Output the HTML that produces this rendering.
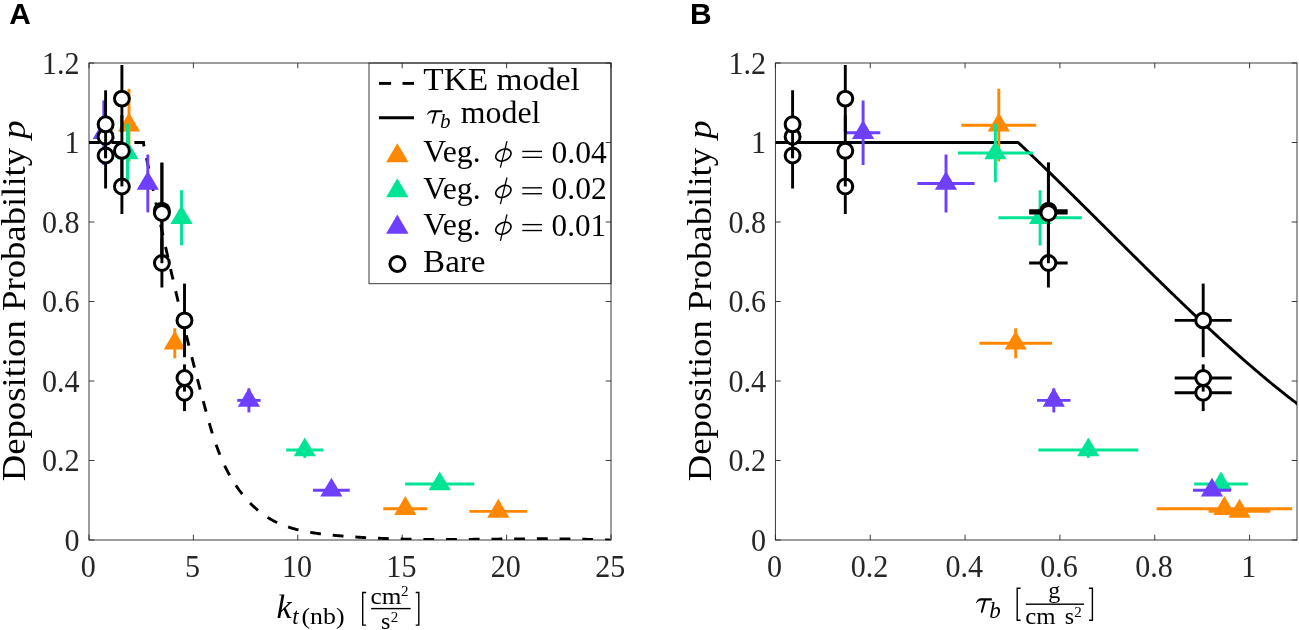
<!DOCTYPE html>
<html><head><meta charset="utf-8"><style>html,body{margin:0;padding:0;background:#fff;}svg{display:block;will-change:transform;}</style></head>
<body><svg width="1299" height="630" viewBox="0 0 1299 630">
<rect width="1299" height="630" fill="#fff"/>
<defs>
<clipPath id="ca"><rect x="89.0" y="63.0" width="522.0" height="477.0"/></clipPath>
<clipPath id="cb"><rect x="775.4" y="63.0" width="521.6" height="477.0"/></clipPath>
</defs>
<rect x="89.00" y="63.00" width="522.00" height="477.00" fill="none" stroke="#262626" stroke-width="0.9"/>
<line x1="89.00" y1="540.00" x2="89.00" y2="534.70" stroke="#262626" stroke-width="0.9" />
<line x1="89.00" y1="63.00" x2="89.00" y2="68.30" stroke="#262626" stroke-width="0.9" />
<line x1="193.40" y1="540.00" x2="193.40" y2="534.70" stroke="#262626" stroke-width="0.9" />
<line x1="193.40" y1="63.00" x2="193.40" y2="68.30" stroke="#262626" stroke-width="0.9" />
<line x1="297.80" y1="540.00" x2="297.80" y2="534.70" stroke="#262626" stroke-width="0.9" />
<line x1="297.80" y1="63.00" x2="297.80" y2="68.30" stroke="#262626" stroke-width="0.9" />
<line x1="402.20" y1="540.00" x2="402.20" y2="534.70" stroke="#262626" stroke-width="0.9" />
<line x1="402.20" y1="63.00" x2="402.20" y2="68.30" stroke="#262626" stroke-width="0.9" />
<line x1="506.60" y1="540.00" x2="506.60" y2="534.70" stroke="#262626" stroke-width="0.9" />
<line x1="506.60" y1="63.00" x2="506.60" y2="68.30" stroke="#262626" stroke-width="0.9" />
<line x1="611.00" y1="540.00" x2="611.00" y2="534.70" stroke="#262626" stroke-width="0.9" />
<line x1="611.00" y1="63.00" x2="611.00" y2="68.30" stroke="#262626" stroke-width="0.9" />
<line x1="89.00" y1="540.00" x2="94.30" y2="540.00" stroke="#262626" stroke-width="0.9" />
<line x1="611.00" y1="540.00" x2="605.70" y2="540.00" stroke="#262626" stroke-width="0.9" />
<line x1="89.00" y1="460.50" x2="94.30" y2="460.50" stroke="#262626" stroke-width="0.9" />
<line x1="611.00" y1="460.50" x2="605.70" y2="460.50" stroke="#262626" stroke-width="0.9" />
<line x1="89.00" y1="381.00" x2="94.30" y2="381.00" stroke="#262626" stroke-width="0.9" />
<line x1="611.00" y1="381.00" x2="605.70" y2="381.00" stroke="#262626" stroke-width="0.9" />
<line x1="89.00" y1="301.50" x2="94.30" y2="301.50" stroke="#262626" stroke-width="0.9" />
<line x1="611.00" y1="301.50" x2="605.70" y2="301.50" stroke="#262626" stroke-width="0.9" />
<line x1="89.00" y1="222.00" x2="94.30" y2="222.00" stroke="#262626" stroke-width="0.9" />
<line x1="611.00" y1="222.00" x2="605.70" y2="222.00" stroke="#262626" stroke-width="0.9" />
<line x1="89.00" y1="142.50" x2="94.30" y2="142.50" stroke="#262626" stroke-width="0.9" />
<line x1="611.00" y1="142.50" x2="605.70" y2="142.50" stroke="#262626" stroke-width="0.9" />
<line x1="89.00" y1="63.00" x2="94.30" y2="63.00" stroke="#262626" stroke-width="0.9" />
<line x1="611.00" y1="63.00" x2="605.70" y2="63.00" stroke="#262626" stroke-width="0.9" />
<g clip-path="url(#ca)">
<path d="M89.00,142.50 L144.85,142.50" fill="none" stroke="#000000" stroke-width="2.9" stroke-linejoin="round" stroke-dasharray="10.8 11.9"/>
<path d="M143.30,142.57 L143.55,143.78 L143.80,145.00 L144.04,146.21 L144.29,147.43 L144.54,148.64 L144.79,149.86 L145.04,151.07 L145.29,152.29 L145.54,153.50 L145.79,154.72 L146.04,155.94 L146.29,157.15 L146.55,158.37 L146.80,159.59 L147.05,160.81 L147.30,162.03 L147.55,163.24 L147.81,164.46 L148.06,165.68 L148.31,166.90 L148.57,168.12 L148.82,169.34 L149.08,170.56 L149.33,171.78 L149.59,173.00 L149.84,174.22 L150.10,175.44 L150.35,176.66 L150.61,177.88 L150.87,179.10 L151.12,180.32 L151.38,181.55 L151.64,182.77 L151.90,183.99 L152.16,185.21 L152.41,186.43 L152.67,187.65 L152.93,188.88 L153.19,190.10 L153.45,191.32 L153.71,192.55 L153.97,193.77 L154.23,194.99 L154.49,196.21 L154.75,197.44 L155.02,198.66 L155.28,199.88 L155.54,201.11 L155.80,202.33 L156.06,203.56 L156.33,204.78 L156.59,206.00 L156.85,207.23 L157.12,208.45 L157.38,209.68 L157.65,210.90 L157.91,212.12 L158.18,213.35 L158.44,214.57 L158.71,215.80 L158.98,217.02 L159.24,218.25 L159.51,219.47 L159.78,220.70 L160.04,221.92 L160.31,223.14 L160.58,224.37 L160.85,225.59 L161.12,226.82 L161.39,228.04 L161.65,229.27 L161.92,230.49 L162.19,231.72 L162.46,232.94 L162.73,234.17 L163.01,235.39 L163.28,236.61 L163.55,237.84 L163.82,239.06 L164.09,240.29 L164.36,241.51 L164.64,242.74 L164.91,243.96 L165.18,245.18 L165.46,246.41 L165.73,247.63 L166.01,248.86 L166.28,250.08 L166.56,251.30 L166.83,252.53 L167.11,253.75 L167.38,254.97 L167.66,256.20 L167.94,257.42 L168.21,258.64 L168.49,259.86 L168.77,261.09 L169.04,262.31 L169.32,263.53 L169.60,264.75 L169.88,265.98 L170.16,267.20 L170.44,268.42 L170.72,269.64 L171.00,270.86 L171.28,272.09 L171.56,273.31 L171.84,274.53 L172.12,275.75 L172.40,276.97 L172.69,278.19 L172.97,279.41 L173.25,280.63 L173.53,281.85 L173.82,283.07 L174.10,284.29 L174.39,285.51 L174.67,286.73 L174.95,287.94 L175.24,289.16 L175.52,290.38 L175.81,291.60 L176.10,292.82 L176.38,294.03 L176.67,295.25 L176.96,296.47 L177.24,297.68 L177.53,298.90 L177.82,300.12 L178.11,301.33 L178.40,302.55 L178.68,303.76 L178.97,304.98 L179.26,306.19 L179.55,307.41 L179.84,308.62 L180.13,309.83 L180.43,311.05 L180.72,312.26 L181.01,313.47 L181.30,314.69 L181.59,315.90 L181.88,317.11 L182.18,318.32 L182.47,319.53 L182.76,320.74 L183.06,321.95 L183.35,323.16 L183.65,324.37 L183.94,325.58 L184.24,326.79 L184.53,328.00 L184.83,329.21 L185.13,330.41 L185.42,331.62 L185.72,332.83 L186.02,334.03 L186.31,335.24 L186.61,336.44 L186.91,337.65 L187.21,338.85 L187.51,340.06 L187.81,341.26 L188.11,342.46 L188.41,343.67 L188.71,344.87 L189.01,346.07 L189.31,347.27 L189.61,348.48 L189.91,349.68 L190.21,350.88 L190.52,352.08 L190.82,353.28 L191.12,354.48 L191.43,355.68 L191.73,356.88 L192.04,358.08 L192.34,359.28 L192.65,360.48 L192.95,361.68 L193.26,362.88 L193.57,364.08 L193.87,365.28 L194.18,366.48 L194.49,367.68 L194.80,368.88 L195.11,370.09 L195.42,371.29 L195.73,372.49 L196.04,373.69 L196.35,374.89 L196.66,376.09 L196.97,377.30 L197.29,378.50 L197.60,379.70 L197.91,380.91 L198.23,382.11 L198.54,383.31 L198.86,384.52 L199.18,385.73 L199.49,386.93 L199.81,388.14 L200.13,389.35 L200.45,390.55 L200.77,391.76 L201.09,392.97 L201.41,394.18 L201.73,395.39 L202.05,396.60 L202.37,397.82 L202.69,399.03 L203.02,400.24 L203.34,401.46 L203.67,402.67 L203.99,403.89 L204.32,405.11 L204.65,406.32 L204.97,407.54 L205.30,408.76 L205.63,409.98 L205.96,411.21 L206.30,412.43 L206.63,413.65 L206.96,414.87 L207.30,416.10 L207.64,417.32 L207.98,418.54 L208.32,419.77 L208.67,420.99 L209.02,422.21 L209.37,423.43 L209.72,424.66 L210.08,425.88 L210.43,427.10 L210.80,428.32 L211.16,429.54 L211.53,430.75 L211.90,431.97 L212.28,433.18 L212.66,434.40 L213.05,435.61 L213.44,436.82 L213.83,438.03 L214.23,439.24 L214.63,440.44 L215.04,441.65 L215.45,442.85 L215.87,444.05 L216.29,445.25 L216.72,446.44 L217.15,447.63 L217.59,448.82 L218.03,450.01 L218.49,451.19 L218.94,452.38 L219.41,453.55 L219.88,454.73 L220.35,455.90 L220.84,457.07 L221.33,458.23 L221.83,459.40 L222.33,460.55 L222.84,461.71 L223.36,462.86 L223.89,464.01 L224.42,465.15 L224.97,466.29 L225.52,467.42 L226.08,468.55 L226.64,469.67 L227.22,470.79 L227.80,471.91 L228.40,473.02 L229.00,474.13 L229.61,475.23 L230.23,476.32 L230.86,477.41 L231.49,478.50 L232.14,479.57 L232.79,480.65 L233.46,481.71 L234.13,482.77 L234.81,483.82 L235.50,484.87 L236.20,485.91 L236.90,486.94 L237.62,487.96 L238.34,488.98 L239.08,489.99 L239.82,490.99 L240.57,491.98 L241.33,492.96 L242.09,493.94 L242.87,494.91 L243.65,495.86 L244.45,496.81 L245.25,497.75 L246.06,498.68 L246.88,499.60 L247.71,500.51 L248.54,501.41 L249.39,502.30 L250.24,503.18 L251.10,504.05 L251.97,504.91 L252.85,505.75 L253.74,506.59 L254.63,507.41 L255.54,508.23 L256.45,509.03 L257.37,509.82 L258.30,510.59 L259.24,511.36 L260.19,512.11 L261.14,512.85 L262.11,513.58 L263.08,514.29 L264.06,514.99 L265.05,515.68 L266.05,516.35 L267.05,517.01 L268.07,517.65 L269.09,518.29 L270.12,518.90 L271.16,519.50 L272.21,520.09 L273.27,520.66 L274.33,521.22 L275.40,521.77 L276.48,522.29 L277.57,522.81 L278.67,523.31 L279.77,523.79 L280.88,524.27 L282.00,524.73 L283.13,525.17 L284.26,525.61 L285.40,526.03 L286.55,526.44 L287.70,526.83 L288.85,527.22 L290.02,527.59 L291.19,527.95 L292.36,528.30 L293.55,528.64 L294.73,528.97 L295.92,529.29 L297.12,529.60 L298.32,529.90 L299.53,530.19 L300.74,530.47 L301.95,530.74 L303.17,531.00 L304.40,531.26 L305.62,531.50 L306.86,531.74 L308.09,531.97 L309.33,532.19 L310.57,532.40 L311.81,532.61 L313.06,532.80 L314.31,533.00 L315.56,533.18 L316.82,533.36 L318.08,533.54 L319.34,533.70 L320.60,533.87 L321.86,534.02 L323.12,534.18 L324.39,534.32 L325.66,534.46 L326.93,534.60 L328.19,534.74 L329.46,534.87 L330.73,534.99 L332.01,535.12 L333.28,535.24 L334.55,535.36 L335.82,535.47 L337.09,535.58 L338.36,535.69 L339.63,535.80 L340.90,535.91 L342.17,536.01 L343.44,536.11 L344.71,536.22 L345.97,536.31 L347.24,536.41 L348.51,536.51 L349.77,536.60 L351.04,536.69 L352.31,536.78 L353.57,536.87 L354.83,536.95 L356.10,537.04 L357.36,537.12 L358.63,537.20 L359.89,537.28 L361.15,537.36 L362.41,537.43 L363.67,537.50 L364.94,537.58 L366.20,537.65 L367.46,537.72 L368.72,537.78 L369.98,537.85 L371.23,537.91 L372.49,537.98 L373.75,538.04 L375.01,538.10 L376.27,538.15 L377.52,538.21 L378.78,538.26 L380.04,538.32 L381.29,538.37 L382.55,538.42 L383.81,538.47 L385.06,538.52 L386.32,538.56 L387.57,538.61 L388.82,538.65 L390.08,538.69 L391.33,538.74 L392.58,538.77 L393.84,538.81 L395.09,538.85 L396.34,538.89 L397.59,538.92 L398.85,538.95 L400.10,538.99 L401.35,539.02 L402.60,539.05 L403.85,539.08 L405.10,539.10 L406.35,539.13 L407.60,539.15 L408.85,539.18 L410.10,539.20 L411.35,539.22 L412.60,539.24 L413.84,539.26 L415.09,539.28 L416.34,539.30 L417.59,539.32 L418.84,539.33 L420.08,539.35 L421.33,539.36 L422.58,539.38 L423.82,539.39 L425.07,539.40 L426.32,539.41 L427.56,539.42 L428.81,539.43 L430.06,539.44 L431.30,539.44 L432.55,539.45 L433.79,539.46 L435.04,539.46 L436.28,539.46 L437.53,539.47 L438.77,539.47 L440.02,539.47 L441.26,539.47 L442.50,539.47 L443.75,539.47 L444.99,539.47 L446.24,539.47 L447.48,539.47 L448.72,539.47 L449.97,539.47 L451.21,539.46 L452.45,539.46 L453.70,539.45 L454.94,539.45 L456.18,539.44 L457.43,539.44 L458.67,539.43 L459.91,539.42 L461.15,539.41 L462.40,539.41 L463.64,539.40 L464.88,539.39 L466.12,539.38 L467.37,539.37 L468.61,539.36 L469.85,539.35 L471.09,539.34 L472.34,539.33 L473.58,539.32 L474.82,539.31 L476.06,539.30 L477.30,539.29 L478.55,539.28 L479.79,539.26 L481.03,539.25 L482.27,539.24 L483.52,539.23 L484.76,539.22 L486.00,539.20 L487.24,539.19 L488.48,539.18 L489.73,539.17 L490.97,539.15 L492.21,539.14 L493.45,539.13 L494.70,539.11 L495.94,539.10 L497.18,539.09 L498.42,539.08 L499.67,539.06 L500.91,539.05 L502.15,539.04 L503.39,539.03 L504.64,539.02 L505.88,539.00 L507.12,538.99 L508.37,538.98 L509.61,538.97 L510.85,538.96 L512.10,538.95 L513.34,538.94 L514.58,538.93 L515.83,538.92 L517.07,538.91 L518.32,538.90 L519.56,538.89 L520.80,538.88 L522.05,538.87 L523.29,538.86 L524.54,538.86 L525.78,538.85 L527.03,538.84 L528.27,538.84 L529.52,538.83 L530.76,538.82 L532.01,538.82 L533.26,538.82 L534.50,538.81 L535.75,538.81 L537.00,538.81 L538.24,538.80 L539.49,538.80 L540.74,538.80 L541.98,538.80 L543.23,538.80 L544.48,538.80 L545.73,538.80 L546.97,538.81 L548.22,538.81 L549.47,538.81 L550.72,538.82 L551.97,538.82 L553.22,538.83 L554.47,538.84 L555.72,538.84 L556.97,538.85 L558.22,538.86 L559.47,538.87 L560.72,538.88 L561.97,538.89 L563.23,538.91 L564.48,538.92 L565.73,538.94 L566.98,538.95 L568.23,538.97 L569.49,538.99 L570.74,539.00 L571.99,539.02 L573.25,539.04 L574.50,539.07 L575.76,539.09 L577.01,539.11 L578.27,539.14 L579.52,539.16 L580.78,539.19 L582.04,539.22 L583.29,539.25 L584.55,539.28 L585.81,539.31 L587.07,539.34 L588.32,539.38 L589.58,539.41 L590.84,539.45 L592.10,539.49 L593.36,539.53 L594.62,539.57 L595.88,539.61 L597.14,539.65 L598.40,539.70 L599.67,539.74 L600.93,539.79 L602.19,539.84 L603.45,539.89 L604.72,539.94 L605.98,539.99 L607.25,540.00 L608.51,540.00 L609.78,540.00" fill="none" stroke="#000000" stroke-width="2.9" stroke-linejoin="round" stroke-dasharray="10.8 11.9" stroke-dashoffset="6.9"/>
<line x1="129.00" y1="88.80" x2="129.00" y2="161.60" stroke="#FF8800" stroke-width="2.9" />
<polygon points="129.00,112.60 140.10,131.50 117.90,131.50" fill="#FF8800"/>
<line x1="174.80" y1="328.30" x2="174.80" y2="358.30" stroke="#FF8800" stroke-width="2.9" />
<polygon points="174.80,330.70 185.90,349.60 163.70,349.60" fill="#FF8800"/>
<line x1="405.30" y1="504.70" x2="405.30" y2="512.70" stroke="#FF8800" stroke-width="2.9" />
<line x1="383.30" y1="508.70" x2="427.30" y2="508.70" stroke="#FF8800" stroke-width="2.9" />
<polygon points="405.30,496.10 416.40,515.00 394.20,515.00" fill="#FF8800"/>
<line x1="498.30" y1="507.40" x2="498.30" y2="515.40" stroke="#FF8800" stroke-width="2.9" />
<line x1="469.50" y1="511.40" x2="527.10" y2="511.40" stroke="#FF8800" stroke-width="2.9" />
<polygon points="498.30,498.80 509.40,517.70 487.20,517.70" fill="#FF8800"/>
<line x1="127.50" y1="123.70" x2="127.50" y2="182.30" stroke="#00E594" stroke-width="2.9" />
<polygon points="127.50,140.40 138.60,159.30 116.40,159.30" fill="#00E594"/>
<line x1="181.50" y1="190.20" x2="181.50" y2="245.40" stroke="#00E594" stroke-width="2.9" />
<polygon points="181.50,205.20 192.60,224.10 170.40,224.10" fill="#00E594"/>
<line x1="304.80" y1="442.10" x2="304.80" y2="457.90" stroke="#00E594" stroke-width="2.9" />
<line x1="286.15" y1="450.00" x2="323.45" y2="450.00" stroke="#00E594" stroke-width="2.9" />
<polygon points="304.80,437.40 315.90,456.30 293.70,456.30" fill="#00E594"/>
<line x1="439.70" y1="480.00" x2="439.70" y2="488.00" stroke="#00E594" stroke-width="2.9" />
<line x1="405.10" y1="484.00" x2="474.30" y2="484.00" stroke="#00E594" stroke-width="2.9" />
<polygon points="439.70,471.40 450.80,490.30 428.60,490.30" fill="#00E594"/>
<line x1="103.80" y1="100.40" x2="103.80" y2="165.00" stroke="#6E3FFF" stroke-width="2.9" />
<polygon points="103.80,120.10 114.90,139.00 92.70,139.00" fill="#6E3FFF"/>
<line x1="147.80" y1="154.60" x2="147.80" y2="212.40" stroke="#6E3FFF" stroke-width="2.9" />
<polygon points="147.80,170.90 158.90,189.80 136.70,189.80" fill="#6E3FFF"/>
<line x1="248.90" y1="388.40" x2="248.90" y2="412.40" stroke="#6E3FFF" stroke-width="2.9" />
<line x1="237.20" y1="400.40" x2="260.60" y2="400.40" stroke="#6E3FFF" stroke-width="2.9" />
<polygon points="248.90,387.80 260.00,406.70 237.80,406.70" fill="#6E3FFF"/>
<line x1="331.40" y1="486.30" x2="331.40" y2="494.30" stroke="#6E3FFF" stroke-width="2.9" />
<line x1="313.00" y1="490.30" x2="349.80" y2="490.30" stroke="#6E3FFF" stroke-width="2.9" />
<polygon points="331.40,477.70 342.50,496.60 320.30,496.60" fill="#6E3FFF"/>
<line x1="105.60" y1="122.50" x2="105.60" y2="188.50" stroke="#000000" stroke-width="2.9" />
<circle cx="105.60" cy="155.50" r="7.45" fill="#fff" stroke="#000" stroke-width="3.0"/>
<line x1="105.60" y1="116.70" x2="105.60" y2="156.70" stroke="#000000" stroke-width="2.9" />
<circle cx="105.60" cy="136.70" r="7.45" fill="#fff" stroke="#000" stroke-width="3.0"/>
<line x1="105.60" y1="90.30" x2="105.60" y2="158.30" stroke="#000000" stroke-width="2.9" />
<circle cx="105.60" cy="124.30" r="7.45" fill="#fff" stroke="#000" stroke-width="3.0"/>
<line x1="121.90" y1="159.00" x2="121.90" y2="214.00" stroke="#000000" stroke-width="2.9" />
<circle cx="121.90" cy="186.50" r="7.45" fill="#fff" stroke="#000" stroke-width="3.0"/>
<line x1="121.90" y1="115.20" x2="121.90" y2="186.40" stroke="#000000" stroke-width="2.9" />
<circle cx="121.90" cy="150.80" r="7.45" fill="#fff" stroke="#000" stroke-width="3.0"/>
<line x1="121.90" y1="65.00" x2="121.90" y2="132.20" stroke="#000000" stroke-width="2.9" />
<circle cx="121.90" cy="98.60" r="7.45" fill="#fff" stroke="#000" stroke-width="3.0"/>
<line x1="161.90" y1="238.50" x2="161.90" y2="287.50" stroke="#000000" stroke-width="2.9" />
<circle cx="161.90" cy="263.00" r="7.45" fill="#fff" stroke="#000" stroke-width="3.0"/>
<line x1="161.90" y1="162.60" x2="161.90" y2="258.60" stroke="#000000" stroke-width="2.9" />
<circle cx="161.90" cy="210.60" r="7.45" fill="#fff" stroke="#000" stroke-width="3.0"/>
<line x1="161.90" y1="162.80" x2="161.90" y2="263.20" stroke="#000000" stroke-width="2.9" />
<circle cx="161.90" cy="213.00" r="7.45" fill="#fff" stroke="#000" stroke-width="3.0"/>
<line x1="184.50" y1="374.30" x2="184.50" y2="411.10" stroke="#000000" stroke-width="2.9" />
<circle cx="184.50" cy="392.70" r="7.45" fill="#fff" stroke="#000" stroke-width="3.0"/>
<line x1="184.50" y1="364.40" x2="184.50" y2="391.60" stroke="#000000" stroke-width="2.9" />
<circle cx="184.50" cy="378.00" r="7.45" fill="#fff" stroke="#000" stroke-width="3.0"/>
<line x1="184.50" y1="283.60" x2="184.50" y2="357.20" stroke="#000000" stroke-width="2.9" />
<circle cx="184.50" cy="320.40" r="7.45" fill="#fff" stroke="#000" stroke-width="3.0"/>
</g>
<rect x="775.40" y="63.00" width="521.60" height="477.00" fill="none" stroke="#262626" stroke-width="0.9"/>
<line x1="775.40" y1="540.00" x2="775.40" y2="534.70" stroke="#262626" stroke-width="0.9" />
<line x1="775.40" y1="63.00" x2="775.40" y2="68.30" stroke="#262626" stroke-width="0.9" />
<line x1="870.24" y1="540.00" x2="870.24" y2="534.70" stroke="#262626" stroke-width="0.9" />
<line x1="870.24" y1="63.00" x2="870.24" y2="68.30" stroke="#262626" stroke-width="0.9" />
<line x1="965.07" y1="540.00" x2="965.07" y2="534.70" stroke="#262626" stroke-width="0.9" />
<line x1="965.07" y1="63.00" x2="965.07" y2="68.30" stroke="#262626" stroke-width="0.9" />
<line x1="1059.91" y1="540.00" x2="1059.91" y2="534.70" stroke="#262626" stroke-width="0.9" />
<line x1="1059.91" y1="63.00" x2="1059.91" y2="68.30" stroke="#262626" stroke-width="0.9" />
<line x1="1154.75" y1="540.00" x2="1154.75" y2="534.70" stroke="#262626" stroke-width="0.9" />
<line x1="1154.75" y1="63.00" x2="1154.75" y2="68.30" stroke="#262626" stroke-width="0.9" />
<line x1="1249.58" y1="540.00" x2="1249.58" y2="534.70" stroke="#262626" stroke-width="0.9" />
<line x1="1249.58" y1="63.00" x2="1249.58" y2="68.30" stroke="#262626" stroke-width="0.9" />
<line x1="775.40" y1="540.00" x2="780.70" y2="540.00" stroke="#262626" stroke-width="0.9" />
<line x1="1297.00" y1="540.00" x2="1291.70" y2="540.00" stroke="#262626" stroke-width="0.9" />
<line x1="775.40" y1="460.50" x2="780.70" y2="460.50" stroke="#262626" stroke-width="0.9" />
<line x1="1297.00" y1="460.50" x2="1291.70" y2="460.50" stroke="#262626" stroke-width="0.9" />
<line x1="775.40" y1="381.00" x2="780.70" y2="381.00" stroke="#262626" stroke-width="0.9" />
<line x1="1297.00" y1="381.00" x2="1291.70" y2="381.00" stroke="#262626" stroke-width="0.9" />
<line x1="775.40" y1="301.50" x2="780.70" y2="301.50" stroke="#262626" stroke-width="0.9" />
<line x1="1297.00" y1="301.50" x2="1291.70" y2="301.50" stroke="#262626" stroke-width="0.9" />
<line x1="775.40" y1="222.00" x2="780.70" y2="222.00" stroke="#262626" stroke-width="0.9" />
<line x1="1297.00" y1="222.00" x2="1291.70" y2="222.00" stroke="#262626" stroke-width="0.9" />
<line x1="775.40" y1="142.50" x2="780.70" y2="142.50" stroke="#262626" stroke-width="0.9" />
<line x1="1297.00" y1="142.50" x2="1291.70" y2="142.50" stroke="#262626" stroke-width="0.9" />
<line x1="775.40" y1="63.00" x2="780.70" y2="63.00" stroke="#262626" stroke-width="0.9" />
<line x1="1297.00" y1="63.00" x2="1291.70" y2="63.00" stroke="#262626" stroke-width="0.9" />
<g clip-path="url(#cb)">
<path d="M775.40,142.50 L1018.20,142.50 L1019.61,143.83 L1021.01,145.15 L1022.42,146.49 L1023.82,147.82 L1025.23,149.15 L1026.64,150.49 L1028.04,151.83 L1029.45,153.17 L1030.85,154.52 L1032.26,155.86 L1033.67,157.21 L1035.07,158.56 L1036.48,159.91 L1037.88,161.26 L1039.29,162.62 L1040.70,163.97 L1042.10,165.33 L1043.51,166.69 L1044.91,168.05 L1046.32,169.42 L1047.73,170.78 L1049.13,172.15 L1050.54,173.52 L1051.94,174.89 L1053.35,176.26 L1054.76,177.63 L1056.16,179.00 L1057.57,180.38 L1058.97,181.75 L1060.38,183.13 L1061.79,184.51 L1063.19,185.89 L1064.60,187.27 L1066.01,188.65 L1067.41,190.04 L1068.82,191.42 L1070.22,192.81 L1071.63,194.19 L1073.04,195.58 L1074.44,196.97 L1075.85,198.36 L1077.25,199.75 L1078.66,201.14 L1080.07,202.53 L1081.47,203.92 L1082.88,205.32 L1084.28,206.71 L1085.69,208.10 L1087.10,209.50 L1088.50,210.89 L1089.91,212.29 L1091.31,213.69 L1092.72,215.08 L1094.13,216.48 L1095.53,217.88 L1096.94,219.27 L1098.34,220.67 L1099.75,222.07 L1101.16,223.47 L1102.56,224.87 L1103.97,226.27 L1105.37,227.67 L1106.78,229.06 L1108.19,230.46 L1109.59,231.86 L1111.00,233.26 L1112.40,234.66 L1113.81,236.06 L1115.22,237.46 L1116.62,238.86 L1118.03,240.25 L1119.43,241.65 L1120.84,243.05 L1122.25,244.45 L1123.65,245.84 L1125.06,247.24 L1126.46,248.64 L1127.87,250.03 L1129.28,251.43 L1130.68,252.82 L1132.09,254.22 L1133.49,255.61 L1134.90,257.00 L1136.31,258.39 L1137.71,259.79 L1139.12,261.18 L1140.52,262.57 L1141.93,263.95 L1143.34,265.34 L1144.74,266.73 L1146.15,268.11 L1147.55,269.50 L1148.96,270.88 L1150.37,272.27 L1151.77,273.65 L1153.18,275.03 L1154.58,276.41 L1155.99,277.79 L1157.40,279.16 L1158.80,280.54 L1160.21,281.91 L1161.62,283.29 L1163.02,284.66 L1164.43,286.03 L1165.83,287.40 L1167.24,288.77 L1168.65,290.13 L1170.05,291.50 L1171.46,292.86 L1172.86,294.22 L1174.27,295.58 L1175.68,296.94 L1177.08,298.29 L1178.49,299.65 L1179.89,301.00 L1181.30,302.35 L1182.71,303.70 L1184.11,305.05 L1185.52,306.39 L1186.92,307.73 L1188.33,309.07 L1189.74,310.41 L1191.14,311.75 L1192.55,313.08 L1193.95,314.41 L1195.36,315.74 L1196.77,317.07 L1198.17,318.40 L1199.58,319.72 L1200.98,321.04 L1202.39,322.36 L1203.80,323.67 L1205.20,324.99 L1206.61,326.30 L1208.01,327.61 L1209.42,328.91 L1210.83,330.21 L1212.23,331.52 L1213.64,332.81 L1215.04,334.11 L1216.45,335.40 L1217.86,336.69 L1219.26,337.98 L1220.67,339.26 L1222.07,340.54 L1223.48,341.82 L1224.89,343.09 L1226.29,344.36 L1227.70,345.63 L1229.10,346.90 L1230.51,348.16 L1231.92,349.42 L1233.32,350.68 L1234.73,351.93 L1236.13,353.18 L1237.54,354.42 L1238.95,355.67 L1240.35,356.91 L1241.76,358.14 L1243.16,359.38 L1244.57,360.60 L1245.98,361.83 L1247.38,363.05 L1248.79,364.27 L1250.19,365.49 L1251.60,366.70 L1253.01,367.90 L1254.41,369.11 L1255.82,370.31 L1257.23,371.50 L1258.63,372.70 L1260.04,373.88 L1261.44,375.07 L1262.85,376.25 L1264.26,377.43 L1265.66,378.60 L1267.07,379.77 L1268.47,380.93 L1269.88,382.09 L1271.29,383.25 L1272.69,384.40 L1274.10,385.54 L1275.50,386.69 L1276.91,387.83 L1278.32,388.96 L1279.72,390.09 L1281.13,391.22 L1282.53,392.34 L1283.94,393.45 L1285.35,394.57 L1286.75,395.67 L1288.16,396.78 L1289.56,397.87 L1290.97,398.97 L1292.38,400.06 L1293.78,401.14 L1295.19,402.22 L1296.59,403.29 L1298.00,404.36" fill="none" stroke="#000000" stroke-width="2.9" stroke-linejoin="round" />
<line x1="998.80" y1="88.80" x2="998.80" y2="161.60" stroke="#FF8800" stroke-width="2.9" />
<line x1="961.40" y1="125.20" x2="1036.20" y2="125.20" stroke="#FF8800" stroke-width="2.9" />
<polygon points="998.80,112.60 1009.90,131.50 987.70,131.50" fill="#FF8800"/>
<line x1="1015.70" y1="328.30" x2="1015.70" y2="358.30" stroke="#FF8800" stroke-width="2.9" />
<line x1="979.40" y1="343.30" x2="1052.00" y2="343.30" stroke="#FF8800" stroke-width="2.9" />
<polygon points="1015.70,330.70 1026.80,349.60 1004.60,349.60" fill="#FF8800"/>
<line x1="1224.40" y1="504.70" x2="1224.40" y2="512.70" stroke="#FF8800" stroke-width="2.9" />
<line x1="1156.60" y1="508.70" x2="1292.20" y2="508.70" stroke="#FF8800" stroke-width="2.9" />
<polygon points="1224.40,496.10 1235.50,515.00 1213.30,515.00" fill="#FF8800"/>
<line x1="1239.50" y1="507.40" x2="1239.50" y2="515.40" stroke="#FF8800" stroke-width="2.9" />
<line x1="1208.60" y1="511.40" x2="1270.40" y2="511.40" stroke="#FF8800" stroke-width="2.9" />
<polygon points="1239.50,498.80 1250.60,517.70 1228.40,517.70" fill="#FF8800"/>
<line x1="995.40" y1="123.70" x2="995.40" y2="182.30" stroke="#00E594" stroke-width="2.9" />
<line x1="957.90" y1="153.00" x2="1032.90" y2="153.00" stroke="#00E594" stroke-width="2.9" />
<polygon points="995.40,140.40 1006.50,159.30 984.30,159.30" fill="#00E594"/>
<line x1="1040.10" y1="190.20" x2="1040.10" y2="245.40" stroke="#00E594" stroke-width="2.9" />
<line x1="998.40" y1="217.80" x2="1081.80" y2="217.80" stroke="#00E594" stroke-width="2.9" />
<polygon points="1040.10,205.20 1051.20,224.10 1029.00,224.10" fill="#00E594"/>
<line x1="1088.30" y1="442.10" x2="1088.30" y2="457.90" stroke="#00E594" stroke-width="2.9" />
<line x1="1038.30" y1="450.00" x2="1138.30" y2="450.00" stroke="#00E594" stroke-width="2.9" />
<polygon points="1088.30,437.40 1099.40,456.30 1077.20,456.30" fill="#00E594"/>
<line x1="1221.00" y1="480.00" x2="1221.00" y2="488.00" stroke="#00E594" stroke-width="2.9" />
<line x1="1194.20" y1="484.00" x2="1247.80" y2="484.00" stroke="#00E594" stroke-width="2.9" />
<polygon points="1221.00,471.40 1232.10,490.30 1209.90,490.30" fill="#00E594"/>
<line x1="863.10" y1="100.40" x2="863.10" y2="165.00" stroke="#6E3FFF" stroke-width="2.9" />
<line x1="845.90" y1="132.70" x2="880.30" y2="132.70" stroke="#6E3FFF" stroke-width="2.9" />
<polygon points="863.10,120.10 874.20,139.00 852.00,139.00" fill="#6E3FFF"/>
<line x1="946.00" y1="154.60" x2="946.00" y2="212.40" stroke="#6E3FFF" stroke-width="2.9" />
<line x1="917.40" y1="183.50" x2="974.60" y2="183.50" stroke="#6E3FFF" stroke-width="2.9" />
<polygon points="946.00,170.90 957.10,189.80 934.90,189.80" fill="#6E3FFF"/>
<line x1="1053.80" y1="388.40" x2="1053.80" y2="412.40" stroke="#6E3FFF" stroke-width="2.9" />
<line x1="1037.05" y1="400.40" x2="1070.55" y2="400.40" stroke="#6E3FFF" stroke-width="2.9" />
<polygon points="1053.80,387.80 1064.90,406.70 1042.70,406.70" fill="#6E3FFF"/>
<line x1="1212.00" y1="486.30" x2="1212.00" y2="494.30" stroke="#6E3FFF" stroke-width="2.9" />
<line x1="1193.00" y1="490.30" x2="1231.00" y2="490.30" stroke="#6E3FFF" stroke-width="2.9" />
<polygon points="1212.00,477.70 1223.10,496.60 1200.90,496.60" fill="#6E3FFF"/>
<line x1="792.60" y1="122.50" x2="792.60" y2="188.50" stroke="#000000" stroke-width="2.9" />
<circle cx="792.60" cy="155.50" r="7.45" fill="#fff" stroke="#000" stroke-width="3.0"/>
<line x1="792.60" y1="116.70" x2="792.60" y2="156.70" stroke="#000000" stroke-width="2.9" />
<circle cx="792.60" cy="136.70" r="7.45" fill="#fff" stroke="#000" stroke-width="3.0"/>
<line x1="792.60" y1="90.30" x2="792.60" y2="158.30" stroke="#000000" stroke-width="2.9" />
<circle cx="792.60" cy="124.30" r="7.45" fill="#fff" stroke="#000" stroke-width="3.0"/>
<line x1="845.30" y1="159.00" x2="845.30" y2="214.00" stroke="#000000" stroke-width="2.9" />
<circle cx="845.30" cy="186.50" r="7.45" fill="#fff" stroke="#000" stroke-width="3.0"/>
<line x1="845.30" y1="115.20" x2="845.30" y2="186.40" stroke="#000000" stroke-width="2.9" />
<circle cx="845.30" cy="150.80" r="7.45" fill="#fff" stroke="#000" stroke-width="3.0"/>
<line x1="845.30" y1="65.00" x2="845.30" y2="132.20" stroke="#000000" stroke-width="2.9" />
<circle cx="845.30" cy="98.60" r="7.45" fill="#fff" stroke="#000" stroke-width="3.0"/>
<line x1="1048.40" y1="238.50" x2="1048.40" y2="287.50" stroke="#000000" stroke-width="2.9" />
<line x1="1029.15" y1="263.00" x2="1067.65" y2="263.00" stroke="#000000" stroke-width="2.9" />
<circle cx="1048.40" cy="263.00" r="7.45" fill="#fff" stroke="#000" stroke-width="3.0"/>
<line x1="1048.40" y1="162.60" x2="1048.40" y2="258.60" stroke="#000000" stroke-width="2.9" />
<line x1="1029.15" y1="210.60" x2="1067.65" y2="210.60" stroke="#000000" stroke-width="2.9" />
<circle cx="1048.40" cy="210.60" r="7.45" fill="#fff" stroke="#000" stroke-width="3.0"/>
<line x1="1048.40" y1="162.80" x2="1048.40" y2="263.20" stroke="#000000" stroke-width="2.9" />
<line x1="1029.15" y1="213.00" x2="1067.65" y2="213.00" stroke="#000000" stroke-width="2.9" />
<circle cx="1048.40" cy="213.00" r="7.45" fill="#fff" stroke="#000" stroke-width="3.0"/>
<line x1="1203.20" y1="374.30" x2="1203.20" y2="411.10" stroke="#000000" stroke-width="2.9" />
<line x1="1174.70" y1="392.70" x2="1231.70" y2="392.70" stroke="#000000" stroke-width="2.9" />
<circle cx="1203.20" cy="392.70" r="7.45" fill="#fff" stroke="#000" stroke-width="3.0"/>
<line x1="1203.20" y1="364.40" x2="1203.20" y2="391.60" stroke="#000000" stroke-width="2.9" />
<line x1="1174.70" y1="378.00" x2="1231.70" y2="378.00" stroke="#000000" stroke-width="2.9" />
<circle cx="1203.20" cy="378.00" r="7.45" fill="#fff" stroke="#000" stroke-width="3.0"/>
<line x1="1203.20" y1="283.60" x2="1203.20" y2="357.20" stroke="#000000" stroke-width="2.9" />
<line x1="1174.70" y1="320.40" x2="1231.70" y2="320.40" stroke="#000000" stroke-width="2.9" />
<circle cx="1203.20" cy="320.40" r="7.45" fill="#fff" stroke="#000" stroke-width="3.0"/>
</g>
<rect x="369" y="63" width="242" height="220.7" fill="none" stroke="#262626" stroke-width="0.9"/>
<line x1="379.00" y1="83.40" x2="391.10" y2="83.40" stroke="#000000" stroke-width="2.9" />
<line x1="402.50" y1="83.40" x2="414.00" y2="83.40" stroke="#000000" stroke-width="2.9" />
<line x1="379.00" y1="117.70" x2="414.00" y2="117.70" stroke="#000000" stroke-width="2.9" />
<polygon points="397.3,143.20 408.50,162.30 386.10,162.30" fill="#FF8800"/>
<polygon points="397.3,178.20 408.50,197.30 386.10,197.30" fill="#00E594"/>
<polygon points="397.3,214.60 408.50,233.70 386.10,233.70" fill="#6E3FFF"/>
<circle cx="397.4" cy="263.9" r="7.5" fill="none" stroke="#000" stroke-width="3.0"/>
<path d="M0,4.2 C1,1.8 2.5,0 5,0 L15.4,0 L15.4,2 L9.6,2 L6.6,12.6 Q6.2,13.8 5.2,13.6 Q4.4,13.3 4.8,12.2 L7.6,2 L4.8,2 C3,2 1.6,3 0.6,4.6 Z" transform="translate(427,110.2)" fill="#000"/>
<path d="M0,4.2 C1,1.8 2.5,0 5,0 L15.4,0 L15.4,2 L9.6,2 L6.6,12.6 Q6.2,13.8 5.2,13.6 Q4.4,13.3 4.8,12.2 L7.6,2 L4.8,2 C3,2 1.6,3 0.6,4.6 Z" transform="translate(976,598.3) scale(1.03,1.07)" fill="#000"/>
<ellipse cx="503.4" cy="155.05" rx="8.0" ry="5.5" transform="rotate(-25 503.4 155.05)" fill="none" stroke="#000" stroke-width="1.6"/>
<line x1="507.0" y1="141.10" x2="500.4" y2="167.70" stroke="#000" stroke-width="1.3"/>
<rect x="522.3" y="150.75" width="19.7" height="1.35" fill="#000"/>
<rect x="522.3" y="156.65" width="19.7" height="1.35" fill="#000"/>
<ellipse cx="503.4" cy="191.45" rx="8.0" ry="5.5" transform="rotate(-25 503.4 191.45)" fill="none" stroke="#000" stroke-width="1.6"/>
<line x1="507.0" y1="177.50" x2="500.4" y2="204.10" stroke="#000" stroke-width="1.3"/>
<rect x="522.3" y="187.15" width="19.7" height="1.35" fill="#000"/>
<rect x="522.3" y="193.05" width="19.7" height="1.35" fill="#000"/>
<ellipse cx="503.4" cy="228.25" rx="8.0" ry="5.5" transform="rotate(-25 503.4 228.25)" fill="none" stroke="#000" stroke-width="1.6"/>
<line x1="507.0" y1="214.30" x2="500.4" y2="240.90" stroke="#000" stroke-width="1.3"/>
<rect x="522.3" y="223.95" width="19.7" height="1.35" fill="#000"/>
<rect x="522.3" y="229.85" width="19.7" height="1.35" fill="#000"/>
<rect x="371.1" y="607.9" width="39.6" height="1.4" fill="#000"/>
<path d="M366.1,592.5 H362.7 V625.1 H366.1" fill="none" stroke="#000" stroke-width="1.4"/>
<path d="M415.7,592.5 H418.8 V625.1 H415.7" fill="none" stroke="#000" stroke-width="1.4"/>
<rect x="1025.8" y="603.5" width="58.3" height="1.4" fill="#000"/>
<path d="M1020.6,588.2 H1017.2 V620.2 H1020.6" fill="none" stroke="#000" stroke-width="1.4"/>
<path d="M1089.0,588.2 H1092.4 V620.2 H1089.0" fill="none" stroke="#000" stroke-width="1.4"/>
<text transform="translate(79.50,550.50) scale(1,1.06)" font-size="30.1" text-anchor="end" style="font-family:&quot;Liberation Serif&quot;,serif;" fill="#262626">0</text>
<text transform="translate(766.00,550.50) scale(1,1.06)" font-size="30.1" text-anchor="end" style="font-family:&quot;Liberation Serif&quot;,serif;" fill="#262626">0</text>
<text transform="translate(79.50,471.00) scale(1,1.06)" font-size="30.1" text-anchor="end" style="font-family:&quot;Liberation Serif&quot;,serif;" fill="#262626">0.2</text>
<text transform="translate(766.00,471.00) scale(1,1.06)" font-size="30.1" text-anchor="end" style="font-family:&quot;Liberation Serif&quot;,serif;" fill="#262626">0.2</text>
<text transform="translate(79.50,391.50) scale(1,1.06)" font-size="30.1" text-anchor="end" style="font-family:&quot;Liberation Serif&quot;,serif;" fill="#262626">0.4</text>
<text transform="translate(766.00,391.50) scale(1,1.06)" font-size="30.1" text-anchor="end" style="font-family:&quot;Liberation Serif&quot;,serif;" fill="#262626">0.4</text>
<text transform="translate(79.50,312.00) scale(1,1.06)" font-size="30.1" text-anchor="end" style="font-family:&quot;Liberation Serif&quot;,serif;" fill="#262626">0.6</text>
<text transform="translate(766.00,312.00) scale(1,1.06)" font-size="30.1" text-anchor="end" style="font-family:&quot;Liberation Serif&quot;,serif;" fill="#262626">0.6</text>
<text transform="translate(79.50,232.50) scale(1,1.06)" font-size="30.1" text-anchor="end" style="font-family:&quot;Liberation Serif&quot;,serif;" fill="#262626">0.8</text>
<text transform="translate(766.00,232.50) scale(1,1.06)" font-size="30.1" text-anchor="end" style="font-family:&quot;Liberation Serif&quot;,serif;" fill="#262626">0.8</text>
<text transform="translate(79.50,153.00) scale(1,1.06)" font-size="30.1" text-anchor="end" style="font-family:&quot;Liberation Serif&quot;,serif;" fill="#262626">1</text>
<text transform="translate(766.00,153.00) scale(1,1.06)" font-size="30.1" text-anchor="end" style="font-family:&quot;Liberation Serif&quot;,serif;" fill="#262626">1</text>
<text transform="translate(79.50,73.50) scale(1,1.06)" font-size="30.1" text-anchor="end" style="font-family:&quot;Liberation Serif&quot;,serif;" fill="#262626">1.2</text>
<text transform="translate(766.00,73.50) scale(1,1.06)" font-size="30.1" text-anchor="end" style="font-family:&quot;Liberation Serif&quot;,serif;" fill="#262626">1.2</text>
<text transform="translate(88.20,576.60) scale(1,1.06)" font-size="30.1" text-anchor="middle" style="font-family:&quot;Liberation Serif&quot;,serif;" fill="#262626">0</text>
<text transform="translate(192.60,576.60) scale(1,1.06)" font-size="30.1" text-anchor="middle" style="font-family:&quot;Liberation Serif&quot;,serif;" fill="#262626">5</text>
<text transform="translate(297.00,576.60) scale(1,1.06)" font-size="30.1" text-anchor="middle" style="font-family:&quot;Liberation Serif&quot;,serif;" fill="#262626">10</text>
<text transform="translate(401.40,576.60) scale(1,1.06)" font-size="30.1" text-anchor="middle" style="font-family:&quot;Liberation Serif&quot;,serif;" fill="#262626">15</text>
<text transform="translate(505.80,576.60) scale(1,1.06)" font-size="30.1" text-anchor="middle" style="font-family:&quot;Liberation Serif&quot;,serif;" fill="#262626">20</text>
<text transform="translate(610.20,576.60) scale(1,1.06)" font-size="30.1" text-anchor="middle" style="font-family:&quot;Liberation Serif&quot;,serif;" fill="#262626">25</text>
<text transform="translate(774.60,576.60) scale(1,1.06)" font-size="30.1" text-anchor="middle" style="font-family:&quot;Liberation Serif&quot;,serif;" fill="#262626">0</text>
<text transform="translate(869.44,576.60) scale(1,1.06)" font-size="30.1" text-anchor="middle" style="font-family:&quot;Liberation Serif&quot;,serif;" fill="#262626">0.2</text>
<text transform="translate(964.27,576.60) scale(1,1.06)" font-size="30.1" text-anchor="middle" style="font-family:&quot;Liberation Serif&quot;,serif;" fill="#262626">0.4</text>
<text transform="translate(1059.11,576.60) scale(1,1.06)" font-size="30.1" text-anchor="middle" style="font-family:&quot;Liberation Serif&quot;,serif;" fill="#262626">0.6</text>
<text transform="translate(1153.95,576.60) scale(1,1.06)" font-size="30.1" text-anchor="middle" style="font-family:&quot;Liberation Serif&quot;,serif;" fill="#262626">0.8</text>
<text transform="translate(1248.78,576.60) scale(1,1.06)" font-size="30.1" text-anchor="middle" style="font-family:&quot;Liberation Serif&quot;,serif;" fill="#262626">1</text>
<text x="9.3" y="24.1" font-size="29.9" font-weight="bold" style="font-family:&quot;Liberation Sans&quot;,sans-serif">A</text>
<text x="689.9" y="24.1" font-size="29.9" font-weight="bold" style="font-family:&quot;Liberation Sans&quot;,sans-serif">B</text>
<text transform="translate(25.4,481.3) rotate(-90)" x="0" y="0" font-size="34" style="font-family:&quot;Liberation Serif&quot;,serif" textLength="361" lengthAdjust="spacingAndGlyphs">Deposition Probability <tspan font-style="italic">p</tspan></text>
<text transform="translate(711.2,481.3) rotate(-90)" x="0" y="0" font-size="34" style="font-family:&quot;Liberation Serif&quot;,serif" textLength="361" lengthAdjust="spacingAndGlyphs">Deposition Probability <tspan font-style="italic">p</tspan></text>
<text x="423.29" y="89.80" font-size="31" style="font-family:&quot;Liberation Serif&quot;,serif;" textLength="156.58" lengthAdjust="spacingAndGlyphs">TKE model</text>
<text x="460.81" y="123.20" font-size="31" style="font-family:&quot;Liberation Serif&quot;,serif;" textLength="79.57" lengthAdjust="spacingAndGlyphs">model</text>
<text x="423.38" y="162.20" font-size="31" style="font-family:&quot;Liberation Serif&quot;,serif;" textLength="57.29" lengthAdjust="spacingAndGlyphs">Veg.</text>
<text x="423.38" y="198.60" font-size="31" style="font-family:&quot;Liberation Serif&quot;,serif;" textLength="57.29" lengthAdjust="spacingAndGlyphs">Veg.</text>
<text x="423.38" y="235.40" font-size="31" style="font-family:&quot;Liberation Serif&quot;,serif;" textLength="57.29" lengthAdjust="spacingAndGlyphs">Veg.</text>
<text x="551.55" y="162.60" font-size="31" style="font-family:&quot;Liberation Serif&quot;,serif;" textLength="55.24" lengthAdjust="spacingAndGlyphs">0.04</text>
<text x="551.57" y="199.00" font-size="31" style="font-family:&quot;Liberation Serif&quot;,serif;" textLength="55.31" lengthAdjust="spacingAndGlyphs">0.02</text>
<text x="551.64" y="236.00" font-size="31" style="font-family:&quot;Liberation Serif&quot;,serif;" textLength="54.48" lengthAdjust="spacingAndGlyphs">0.01</text>
<text x="423.14" y="272.30" font-size="31" style="font-family:&quot;Liberation Serif&quot;,serif;" textLength="62.44" lengthAdjust="spacingAndGlyphs">Bare</text>
<text x="276.45" y="617.50" font-size="34" style="font-family:&quot;Liberation Serif&quot;,serif;font-style:italic" >k</text>
<text x="292.37" y="623.90" font-size="23" style="font-family:&quot;Liberation Serif&quot;,serif;font-style:italic" >t</text>
<text x="301.47" y="623.90" font-size="23" style="font-family:&quot;Liberation Serif&quot;,serif;" textLength="43.03" lengthAdjust="spacingAndGlyphs">(nb)</text>
<text x="370.57" y="604.30" font-size="24" style="font-family:&quot;Liberation Serif&quot;,serif;" textLength="30.85" lengthAdjust="spacingAndGlyphs">cm</text>
<text x="401.03" y="595.70" font-size="15" style="font-family:&quot;Liberation Serif&quot;,serif;" >2</text>
<text x="381.01" y="628.60" font-size="24" style="font-family:&quot;Liberation Serif&quot;,serif;" >s</text>
<text x="390.73" y="621.80" font-size="15" style="font-family:&quot;Liberation Serif&quot;,serif;" >2</text>
<text x="989.18" y="617.50" font-size="23" style="font-family:&quot;Liberation Serif&quot;,serif;font-style:italic" >b</text>
<text x="1048.35" y="597.50" font-size="24" style="font-family:&quot;Liberation Serif&quot;,serif;" >g</text>
<text x="1025.31" y="623.70" font-size="24" style="font-family:&quot;Liberation Serif&quot;,serif;" textLength="30.30" lengthAdjust="spacingAndGlyphs">cm</text>
<text x="1064.66" y="623.70" font-size="24" style="font-family:&quot;Liberation Serif&quot;,serif;" >s</text>
<text x="1074.18" y="617.20" font-size="15" style="font-family:&quot;Liberation Serif&quot;,serif;" >2</text>
<text x="440.0" y="127.6" font-size="21" style="font-family:&quot;Liberation Serif&quot;,serif;font-style:italic">b</text>
</svg></body></html>
